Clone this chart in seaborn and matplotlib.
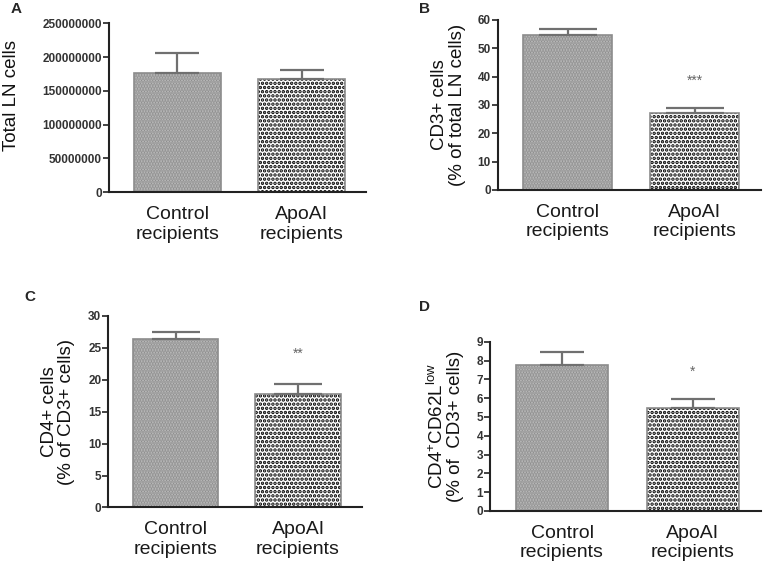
import matplotlib
matplotlib.use("Agg")
import matplotlib.pyplot as plt
import seaborn as sns

# Groups on the x axis
groups = ["Control\nrecipients", "ApoAI\nrecipients"]

# Panel A: total LN cells
total_ln = [176000000, 167500000]
total_ln_err = [30000000, 13500000]

# Panel B: CD3+ cells (% of total LN cells)
cd3 = [54.7, 27.1]
cd3_err = [1.9, 1.8]

# Panel C: CD4+ cells (% of CD3+ cells)
cd4 = [26.4, 17.7]
cd4_err = [1.1, 1.6]

# Panel D: CD4+CD62L low (% of CD3+ cells)
cd62 = [7.77, 5.46]
cd62_err = [0.68, 0.52]

stars_b = ["", "***"]
stars_c = ["", "**"]
stars_d = ["", "*"]

sns.set_style("ticks")
plt.rcParams["font.family"] = ["Liberation Sans", "DejaVu Sans"]
plt.rcParams["mathtext.fontset"] = "custom"
plt.rcParams["mathtext.rm"] = "Liberation Sans"
plt.rcParams["mathtext.it"] = "Liberation Sans:italic"
plt.rcParams["hatch.linewidth"] = 1.7

fig = plt.figure(figsize=(7.68, 5.67), dpi=100)

# axes positions [left, bottom, width, height]
panels = [
    dict(pos=[0.142, 0.661, 0.335, 0.298], vals=total_ln, err=total_ln_err, ymax=250000000,
         step=50000000, ylabel="Total LN cells", stars=None, letter="A", lx=0.014, ly=0.985,
         ylx=-0.345, yly=0.57, cap=16),
    dict(pos=[0.648, 0.665, 0.343, 0.300], vals=cd3, err=cd3_err, ymax=60, step=10,
         ylabel="CD3+ cells\n(% of total LN cells)", stars=stars_b, letter="B", lx=0.545, ly=0.985,
         ylx=-0.12, yly=0.5, cap=21),
    dict(pos=[0.141, 0.105, 0.330, 0.338], vals=cd4, err=cd4_err, ymax=30, step=5,
         ylabel="CD4+ cells\n(% of CD3+ cells)", stars=stars_c, letter="C", lx=0.032, ly=0.476,
         ylx=-0.13, yly=0.5, cap=17),
    dict(pos=[0.638, 0.099, 0.353, 0.298], vals=cd62, err=cd62_err, ymax=9, step=1,
         ylabel="CD4$^{+}$CD62L$^{\\mathrm{low}}$\n(% of  CD3+ cells)", stars=stars_d, letter="D",
         lx=0.545, ly=0.458, ylx=-0.095, yly=0.5, cap=16),
]

bar_faces = ["#c2c2c2", "white"]
bar_hatches = ["......", "...."]
hatch_cols = ["#8e8e8e", "black"]

for p in panels:
    ax = fig.add_axes(p["pos"])
    sns.barplot(x=groups, y=p["vals"], ax=ax, width=0.7, errorbar=None, color="white")
    for patch, fc, h, hc in zip(ax.patches, bar_faces, bar_hatches, hatch_cols):
        patch.set_facecolor(fc)
        patch.set_hatch(h)
        patch.set_edgecolor(hc)
        patch.set_linewidth(0)
    # outline on top of the hatched bars
    sns.barplot(x=groups, y=p["vals"], ax=ax, width=0.7, errorbar=None,
                fill=False, color="#8c8c8c", linewidth=1.2)

    # upper error bars only
    ax.errorbar([0, 1], p["vals"], yerr=[[0, 0], p["err"]], fmt="none",
                ecolor="#707070", elinewidth=1.6, capsize=p["cap"], capthick=1.6, zorder=3)

    if p["stars"] is not None:
        for i, s in enumerate(p["stars"]):
            if s:
                ypos = p["vals"][i] + p["err"][i] + p["ymax"] * 0.16
                ax.text(i, ypos, s, ha="center", va="center", fontsize=10, color="#666666")

    ax.set_xlim(-0.55, 1.52)
    ax.set_ylim(0, p["ymax"])
    ax.set_yticks(range(0, int(p["ymax"]) + 1, int(p["step"])))
    ax.yaxis.set_major_formatter(matplotlib.ticker.FuncFormatter(lambda v, pos: f"{int(v)}"))
    ax.tick_params(axis="y", labelsize=8.5, labelcolor="#333333", length=4, width=1.2,
                   color="#222222", pad=1)
    for lab in ax.get_yticklabels():
        lab.set_fontweight("bold")
    ax.tick_params(axis="x", labelsize=14, labelcolor="#1a1a1a", length=0, pad=10)
    ax.set_ylabel(p["ylabel"], fontsize=13.5, color="#111111", linespacing=1.05)
    ax.yaxis.set_label_coords(p["ylx"], p["yly"])
    ax.set_xlabel("")
    for side in ["left", "bottom"]:
        ax.spines[side].set_linewidth(1.5)
        ax.spines[side].set_color("#222222")
    sns.despine(ax=ax)
    for lab in ax.get_xticklabels():
        lab.set_linespacing(1.2)

    fig.text(p["lx"], p["ly"], p["letter"], fontsize=11, fontweight="bold",
             ha="left", va="center")

fig.savefig("out.png", dpi=100)
